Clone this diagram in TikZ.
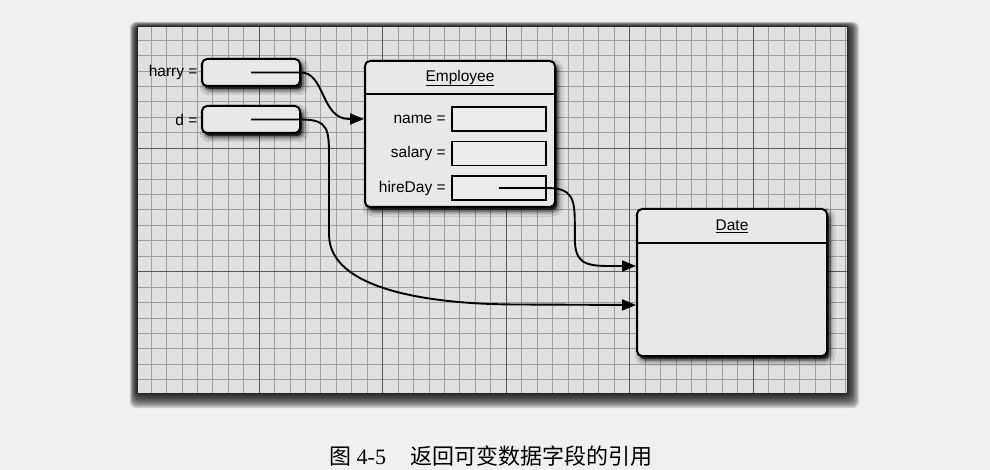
\documentclass[tikz,border=0pt]{standalone}
\usepackage{fontspec}
\setmainfont{Liberation Sans}
\newfontfamily\cjk{Noto Sans CJK SC}
\newfontfamily\capserif{Liberation Serif}
\usepackage{tikz}
\usetikzlibrary{arrows.meta, positioning, shadows, shadows.blur}

\begin{document}
\begin{tikzpicture}[
  x=1pt, y=-1pt,
  font=\fontsize{15.5}{18}\selectfont,
  panel/.style = {fill=black!12, draw=black!85, line width=1pt},
  panelshade/.style = {fill=black, opacity=0.15, rounded corners=6pt},
  minorline/.style = {draw=black!38, line width=0.6pt},
  majorline/.style = {draw=black!65, line width=0.9pt},
  objbox/.style = {draw, line width=2pt, rounded corners=5pt, fill=black!9, inner sep=0pt,
    blur shadow={shadow xshift=3pt, shadow yshift=-4pt, shadow blur radius=5pt, shadow opacity=90},
    general shadow={fill=black, opacity=0.55, shadow xshift=2pt, shadow yshift=-3pt}},
  varbox/.style = {objbox, minimum width=98pt, minimum height=27pt},
  classbox/.style = {objbox, minimum width=190pt, minimum height=146pt},
  fieldbox/.style = {draw, line width=1.6pt, fill=black!8, minimum width=94pt, minimum height=24pt, inner sep=0pt},
  divider/.style = {line width=1.4pt},
  ptr/.style = {line width=1.9pt, -{Triangle[length=14pt,width=11pt]}}
]
\useasboundingbox[fill=black!6] (0,0) rectangle (990,470);

% graph paper
\foreach \s in {1,...,10}
  \path[panelshade] ({137-0.7*\s},{27-0.5*\s}) rectangle ({847+1.2*\s},{393+1.5*\s});
\path[panel] (137,27) rectangle (847,393);
\foreach \k in {1,...,46}
  \draw[minorline] ({135.5+\k*15.44},27.5) -- ({135.5+\k*15.44},392.5);
\foreach \k in {1,...,23}
  \draw[minorline] (137.5,{24.5+\k*15.44}) -- (846.5,{24.5+\k*15.44});
\foreach \k in {1,...,5}
  \draw[majorline] ({135.5+\k*123.5},27.5) -- ({135.5+\k*123.5},392.5);
\foreach \k in {1,2}
  \draw[majorline] (137.5,{24.5+\k*123.5}) -- (846.5,{24.5+\k*123.5});

% variables
\node[varbox] (harryvar) at (251,72.5) {};
\node[varbox] (dvar) at (251,119.5) {};
\node[left=0pt of harryvar] (harrylabel) {harry =};
\node[left=0pt of dvar] (dlabel) {d =};

% Employee object
\node[classbox] (emp) at (460,134) {};
\draw[divider] ([yshift=-34pt]emp.north west) -- ([yshift=-34pt]emp.north east);
\node (emptitle) at ([yshift=-18pt]emp.north) {\underline{Employee}};
\node[fieldbox] (namefield) at (499,119) {};
\node[fieldbox] (salaryfield) at (499,153.5) {};
\node[fieldbox] (hirefield) at (499,188) {};
\node[left=2pt of namefield] (namelabel) {name =};
\node[left=2pt of salaryfield] (salarylabel) {salary =};
\node[left=2pt of hirefield] (hirelabel) {hireDay =};

% Date object
\node[classbox, minimum height=147pt] (date) at (732,282.5) {};
\draw[divider] ([yshift=-35pt]date.north west) -- ([yshift=-35pt]date.north east);
\node (datetitle) at ([yshift=-18pt]date.north) {\underline{Date}};

% references
\draw[ptr] (harryvar.center) -- (harryvar.east)
  .. controls +(24,0) and +(-28,0) .. ++(48,46.5) -- (emp.west |- namefield);
\draw[ptr] (dvar.center) -- (dvar.east)
  .. controls +(28,0) and +(0,-30) .. ++(28,40) -- ++(0,75)
  .. controls +(0,55) and +(-90,0) .. ++(190,70) -- ([yshift=-22.5pt]date.west);
\draw[ptr] (hirefield.center) -- (hirefield.east)
  .. controls +(25,0) and +(0,-25) .. ++(28,35) -- ++(0,15)
  .. controls +(0,25) and +(-25,0) .. ++(35,28) -- ([yshift=16.5pt]date.west);

% caption
\node (caption) at (491,456) {\fontsize{22}{26}\selectfont\cjk 图 {\capserif 4-5}\hspace{1.1em}返回可变数据字段的引用};
\end{tikzpicture}
\end{document}
